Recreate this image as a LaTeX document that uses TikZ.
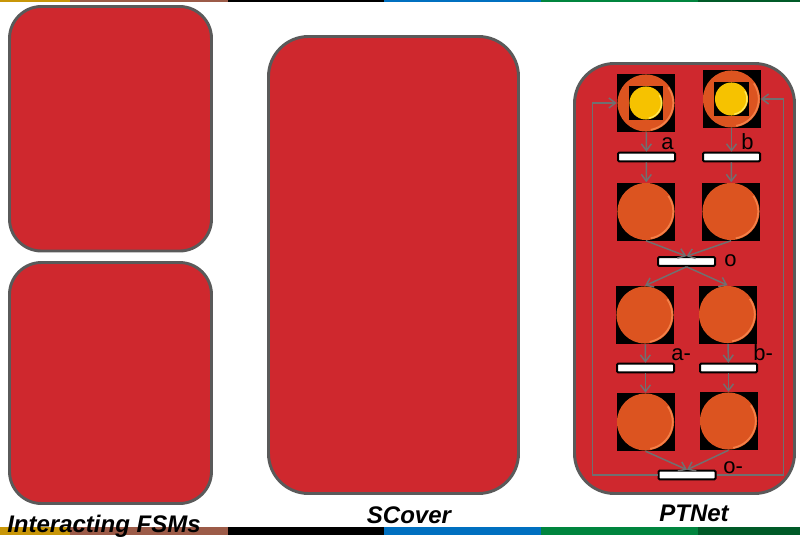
\documentclass[tikz,border=0pt]{standalone}
\usepackage{fontspec}
\setmainfont{Liberation Sans}
\usetikzlibrary{arrows.meta,positioning}

\definecolor{panelred}{RGB}{207,40,46}
\definecolor{panelgray}{RGB}{90,90,90}
\definecolor{placeorange}{RGB}{220,84,32}
\definecolor{rimorange}{RGB}{244,128,72}
\definecolor{tokenyellow}{RGB}{246,194,0}
\definecolor{rimyellow}{RGB}{255,232,90}
\definecolor{arcgray}{RGB}{112,112,112}
\definecolor{stripegold}{RGB}{200,150,8}
\definecolor{stripebrown}{RGB}{156,91,72}
\definecolor{stripeblue}{RGB}{0,112,192}
\definecolor{stripegreen}{RGB}{0,133,62}
\definecolor{stripedark}{RGB}{0,90,40}

\begin{document}
\begin{tikzpicture}[x=0.75pt, y=-0.75pt,
  panel/.style={rectangle, draw=panelgray, line width=2.2pt, fill=panelred, inner sep=0pt, rounded corners=24pt},
  place/.style={rectangle, fill=black, inner sep=0pt, minimum size=43.5pt,
    path picture={
      \fill[placeorange] (path picture bounding box.center) circle (21.4pt);
      \draw[rimorange, line width=1.3pt] (path picture bounding box.center) ++(-80:20.4pt) arc (-80:35:20.4pt);
    }},
  marked/.style={place,
    path picture={
      \fill[placeorange] (path picture bounding box.center) circle (21.4pt);
      \draw[rimorange, line width=1.3pt] (path picture bounding box.center) ++(-80:20.4pt) arc (-80:35:20.4pt);
      \fill[black] (path picture bounding box.center) ++(-13.1pt,-13.1pt) rectangle ++(26.2pt,26.2pt);
      \fill[tokenyellow] (path picture bounding box.center) circle (12.4pt);
      \draw[rimyellow, line width=1pt] (path picture bounding box.center) ++(-80:11.6pt) arc (-80:30:11.6pt);
    }},
  transition/.style={rectangle, draw=black, line width=1.5pt, fill=white, rounded corners=0.8pt,
    minimum width=42.75pt, minimum height=6.4pt, inner sep=0pt},
  lbl/.style={inner sep=0pt, font=\fontsize{16.5pt}{16.5pt}\selectfont},
  caption/.style={inner sep=0pt, font=\fontsize{18pt}{18pt}\selectfont\bfseries\itshape},
  arrow/.style={-{Straight Barb[length=5pt, width=7.5pt]}, draw=arcgray, line width=1.1pt}
]
  \useasboundingbox (0,0) rectangle (800,539);

  \fill[stripegold] (0,0) rectangle (70,1.6);
  \fill[stripebrown] (70,0) rectangle (228,1.6);
  \fill[black] (228,0) rectangle (384,1.6);
  \fill[stripeblue] (384,0) rectangle (541,1.6);
  \fill[stripegreen] (541,0) rectangle (698,1.6);
  \fill[stripedark] (698,0) rectangle (800,1.6);

  \fill[stripegold] (0,527) rectangle (70,535);
  \fill[stripebrown] (70,527) rectangle (228,535);
  \fill[black] (228,527) rectangle (384,535);
  \fill[stripeblue] (384,527) rectangle (541,535);
  \fill[stripegreen] (541,527) rectangle (698,535);
  \fill[stripedark] (698,527) rectangle (800,535);

  \node[panel, minimum width=151.5pt, minimum height=183.4pt] (fsma) at (110.5,128.75) {};
  \node[panel, minimum width=151.5pt, minimum height=180.75pt] (fsmb) at (110.5,383) {};
  \node[panel, rounded corners=30pt, minimum width=187.5pt, minimum height=342.75pt] (scover) at (393.5,265) {};
  \node[panel, rounded corners=30pt, minimum width=165pt, minimum height=322.5pt] (ptnet) at (684.5,278.5) {};

  \node[caption, anchor=base west] (lfsm) at (7,532) {Interacting FSMs};
  \node[caption, anchor=base] (lscover) at (409,523) {SCover};
  \node[caption, anchor=base] (lptnet) at (694,521) {PTNet};

  \node[marked] (pa) at (646,103) {};
  \node[marked] (pb) at (731.5,99) {};
  \node[transition] (tra) at (646.5,157) {};
  \node[transition] (trb) at (731.5,157) {};
  \node[place] (pa2) at (646,211.5) {};
  \node[place] (pb2) at (731,211.5) {};
  \node[transition] (tro) at (686.5,261.5) {};
  \node[place] (pa3) at (645,315) {};
  \node[place] (pb3) at (727.5,314.5) {};
  \node[transition] (tram) at (645.5,368) {};
  \node[transition] (trbm) at (728.5,368) {};
  \node[place] (pa4) at (645.5,422) {};
  \node[place] (pb4) at (728.5,421) {};
  \node[transition] (trom) at (687,475) {};

  \node[lbl, anchor=base west] (la) at (661,149) {a};
  \node[lbl, anchor=base west] (lb) at (741,149) {b};
  \node[lbl, anchor=base west] (lo) at (724,266) {o};
  \node[lbl, anchor=base west] (lam) at (671,360) {a-};
  \node[lbl, anchor=base west] (lbm) at (753,360) {b-};
  \node[lbl, anchor=base west] (lom) at (723,473) {o-};

  \draw[arrow] (pa) -- (tra);
  \draw[arrow] (tra) -- (pa2);
  \draw[arrow] (pb) -- (trb);
  \draw[arrow] (trb) -- (pb2);
  \draw[arrow] (pa2.south) -- (tro.north);
  \draw[arrow] (pb2.south) -- (tro.north);
  \draw[arrow] (tro.south) -- (pa3.north);
  \draw[arrow] (tro.south) -- (pb3.north);
  \draw[arrow] (pa3) -- (tram);
  \draw[arrow] (tram) -- (pa4);
  \draw[arrow] (pb3) -- (trbm);
  \draw[arrow] (trbm) -- (pb4);
  \draw[arrow] (pa4.south) -- (trom.north);
  \draw[arrow] (pb4.south) -- (trom.north);
  \draw[arrow] (trom.west) -- ++(-65,0) |- (pa.west);
  \draw[arrow] (trom.east) -- ++(67,0) |- (pb.east);
\end{tikzpicture}
\end{document}
